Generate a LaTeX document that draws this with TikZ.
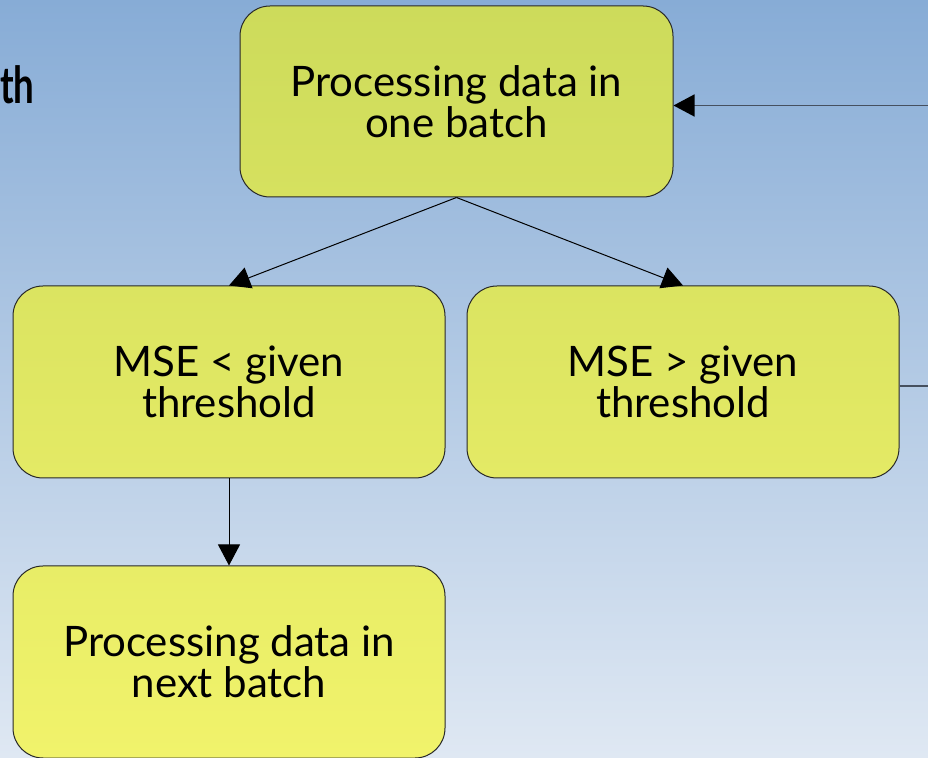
\documentclass[tikz,border=0pt]{standalone}
\usepackage{fontspec}
\setmainfont{Lato}
\usetikzlibrary{arrows.meta,calc}
\definecolor{bgtop}{RGB}{135,172,214}
\definecolor{bgbot}{RGB}{223,232,243}
\definecolor{edgec}{RGB}{40,40,40}
\definecolor{fbline}{RGB}{70,80,95}
\definecolor{ya}{RGB}{205,219,91}
\definecolor{yb}{RGB}{214,225,95}
\definecolor{yc}{RGB}{219,228,97}
\definecolor{yd}{RGB}{228,234,101}
\definecolor{ye}{RGB}{232,237,103}
\definecolor{yf}{RGB}{241,243,107}
\tikzset{
  box/.style={draw=edgec, line width=1pt, rounded corners=30pt,
    minimum width=432pt, minimum height=192pt, align=center,
    inner sep=0pt, font={\fontsize{42}{41}\selectfont}},
  tip/.style={-{Triangle[length=21pt,width=22pt,color=black,fill=black]}},
  conn/.style={draw=black, line width=1pt, tip},
  fb/.style={draw=fbline, line width=1.5pt},
}
\begin{document}
\begin{tikzpicture}[x=1pt,y=1pt]
\useasboundingbox (0,0) rectangle (928,757);
\shade[top color=bgtop, bottom color=bgbot] (0,0) rectangle (928,757);
\node[anchor=base west, inner sep=0pt, xscale=0.72, transform shape,
  font={\fontsize{51}{52}\selectfont\bfseries}] (ttl) at (0,653) {th};
\node[box, top color=ya, bottom color=yb, minimum width=433pt, minimum height=191pt] (top) at (456.5,655.5) {Processing data in\\one batch};
\node[box, top color=yc, bottom color=yd] (lm) at (229,375) {MSE < given\\threshold};
\node[box, top color=yc, bottom color=yd] (rm) at (683,375) {MSE > given\\threshold};
\node[box, top color=ye, bottom color=yf] (bm) at (229,95) {Processing data in\\next batch};
\coordinate (outR) at (928,371);
\coordinate (inR) at (928,651.5);
\draw[conn] (top.south) -- (lm.north);
\draw[conn] (top.south) -- (rm.north);
\draw[conn] (lm.south) -- (bm.north);
\draw[fb] (rm.east |- outR) -- (outR);
\draw[fb, tip] (inR) -- (top.east |- inR);
\end{tikzpicture}
\end{document}
